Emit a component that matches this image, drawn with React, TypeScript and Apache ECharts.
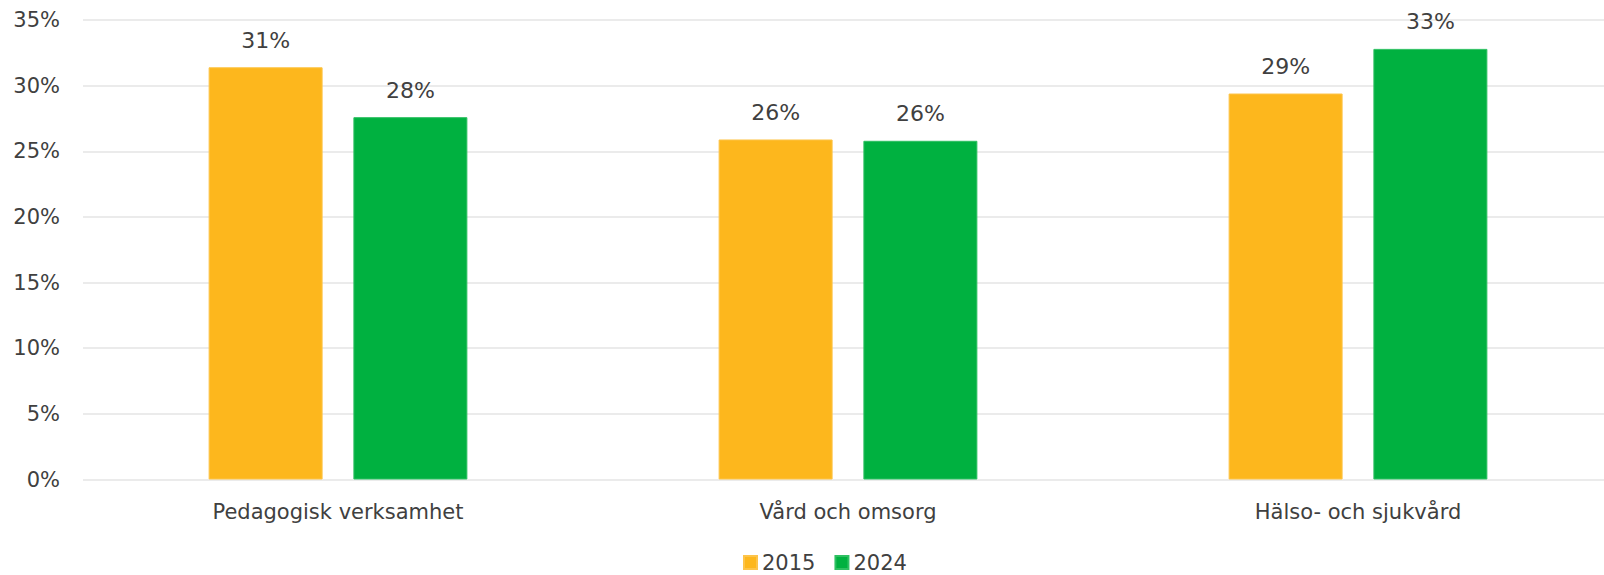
import React, { useEffect, useRef } from "react";
import * as echarts from "echarts";

const categories = ["Pedagogisk verksamhet", "Vård och omsorg", "Hälso- och sjukvård"];
const series2015 = [31.4, 25.9, 29.4];
const series2024 = [27.6, 25.8, 32.8];
const seriesNames = ["2015", "2024"];
const yTicks = [0, 5, 10, 15, 20, 25, 30, 35];

const FONT = "DejaVu Sans";
const TEXT = "#404040";

export default function App() {
  const ref = useRef<HTMLDivElement>(null);
  useEffect(() => {
    if (!ref.current) return;
    const chart = echarts.init(ref.current, null, { renderer: "svg" });
    chart.setOption({
      animation: false,
      backgroundColor: "#ffffff",
      textStyle: { fontFamily: FONT },
      grid: {
        left: 83,
        top: 20,
        width: 1530,
        height: 459.5,
        containLabel: false,
        outerBoundsMode: "none",
      },
      legend: {
        left: 738,
        top: 547,
        icon: "rect",
        itemWidth: 13,
        itemHeight: 13,
        itemGap: 19,
        textStyle: { fontFamily: FONT, fontSize: 21, color: TEXT },
        data: seriesNames,
      },
      xAxis: {
        type: "category",
        data: categories,
        axisLine: { show: false },
        axisTick: { show: false },
        axisLabel: { fontFamily: FONT, fontSize: 21, color: TEXT, margin: 22 },
      },
      yAxis: {
        type: "value",
        min: yTicks[0],
        max: yTicks[yTicks.length - 1],
        interval: 5,
        axisLine: { show: false },
        axisTick: { show: false },
        splitLine: { lineStyle: { color: "#ebebeb", width: 2 } },
        axisLabel: {
          fontFamily: FONT,
          fontSize: 21,
          color: TEXT,
          margin: 23,
          formatter: (v: number) => `${v}%`,
        },
      },
      series: [
        {
          name: seriesNames[0],
          type: "bar",
          data: series2015,
          barWidth: 114,
          barGap: "27%",
          itemStyle: { color: "#FDB71D", borderColor: "#FDC44A", borderWidth: 1 },
          label: {
            show: true,
            position: "top",
            distance: 16,
            fontFamily: FONT,
            fontSize: 22,
            color: TEXT,
            formatter: (p: any) => `${Math.round(p.value)}%`,
          },
        },
        {
          name: seriesNames[1],
          type: "bar",
          data: series2024,
          barWidth: 114,
          barGap: "27%",
          itemStyle: { color: "#00B140", borderColor: "#2FC062", borderWidth: 1 },
          label: {
            show: true,
            position: "top",
            distance: 16,
            fontFamily: FONT,
            fontSize: 22,
            color: TEXT,
            formatter: (p: any) => `${Math.round(p.value)}%`,
          },
        },
      ],
    });
    return () => chart.dispose();
  }, []);
  return (
    <div
      ref={ref}
      style={{ position: "fixed", left: 0, top: 0, width: 1604, height: 575, background: "#fff" }}
    />
  );
}
